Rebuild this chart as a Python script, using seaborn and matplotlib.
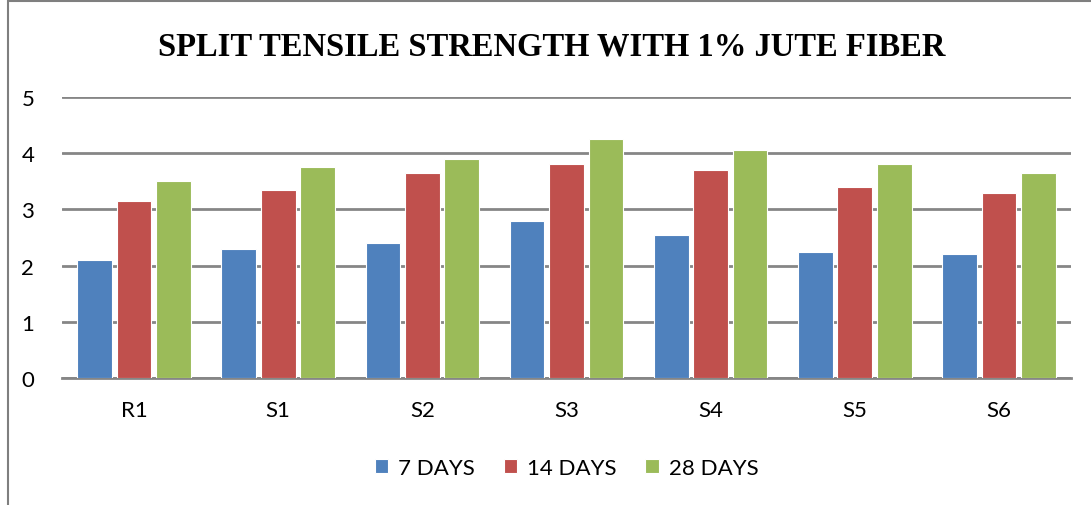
import pandas as pd
import matplotlib
matplotlib.use("Agg")
import matplotlib.pyplot as plt
from matplotlib.patches import Rectangle
import seaborn as sns

# chart values
mixes = ["R1", "S1", "S2", "S3", "S4", "S5", "S6"]
days_7 = [2.10, 2.30, 2.40, 2.80, 2.55, 2.25, 2.20]
days_14 = [3.15, 3.35, 3.65, 3.80, 3.70, 3.40, 3.30]
days_28 = [3.50, 3.75, 3.90, 4.25, 4.05, 3.80, 3.65]
series_names = ["7 DAYS", "14 DAYS", "28 DAYS"]
y_ticks = [0, 1, 2, 3, 4, 5]

colors = ["#4F81BD", "#C0504D", "#9BBB59"]
grid_col = "#868686"

rows = []
for name, vals in zip(series_names, [days_7, days_14, days_28]):
    for m, v in zip(mixes, vals):
        rows.append({"mix": m, "age": name, "strength": v})
df = pd.DataFrame(rows)

sns.set_style("white")
plt.rcParams["font.family"] = ["Lato", "DejaVu Sans"]
plt.rcParams["text.color"] = "black"

fig = plt.figure(figsize=(10.91, 5.06), dpi=100)
ax = fig.add_axes([62 / 1091, 1 - 379 / 506, (1071 - 62) / 1091, (379 - 98) / 506])

sns.barplot(data=df, x="mix", y="strength", hue="age", order=mixes,
            hue_order=series_names, palette=colors, saturation=1,
            width=0.82, gap=0.12, edgecolor="white", linewidth=0.8,
            ax=ax, zorder=3)

ax.set_ylim(0, 5)
ax.set_xlim(-0.5, len(mixes) - 0.5)
ax.set_yticks(y_ticks)
ax.set_yticklabels([str(t) for t in y_ticks])
ax.yaxis.grid(True, color=grid_col, linewidth=2)
ax.set_axisbelow(True)
ax.set_xlabel("")
ax.set_ylabel("")
for s in ["top", "right", "left"]:
    ax.spines[s].set_visible(False)
ax.spines["bottom"].set_color(grid_col)
ax.spines["bottom"].set_linewidth(2)
ax.tick_params(axis="both", length=0, labelsize=16, labelcolor="black")
ax.tick_params(axis="y", pad=20)
ax.tick_params(axis="x", pad=16)

sns.move_legend(ax, "center", bbox_to_anchor=(0.5, (469 - 379) / -(379 - 98)),
                ncol=3, frameon=False, title=None, fontsize=16,
                handlelength=0.6, handleheight=0.6, handletextpad=0.45,
                columnspacing=1.3)

fig.text(552 / 1091, 1 - 47 / 506, "SPLIT TENSILE STRENGTH WITH 1% JUTE FIBER",
         ha="center", va="center", fontsize=23.5, fontweight="bold",
         color="black", family=["Liberation Serif", "DejaVu Serif"])

# outer chart border (only left and top visible in the reference)
fig.add_artist(Rectangle((8 / 1091, -0.1), 1.2, 1.1 - 1.5 / 506,
                         transform=fig.transFigure, fill=False,
                         edgecolor="#7f7f7f", linewidth=1.5))

fig.savefig("out.png", dpi=100)
